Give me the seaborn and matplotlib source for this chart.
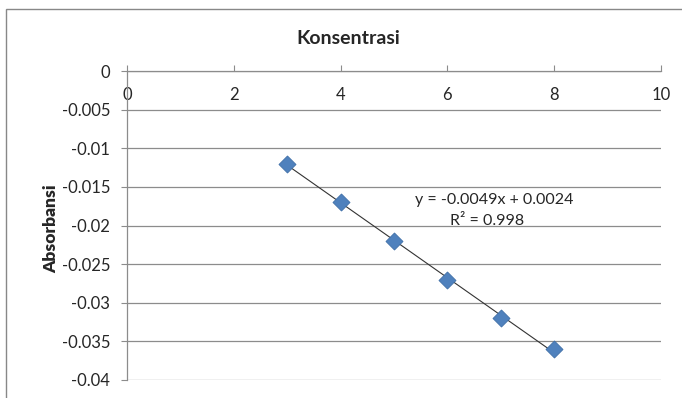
import numpy as np
import pandas as pd
import matplotlib
matplotlib.use('Agg')
import matplotlib.pyplot as plt
import seaborn as sns
from matplotlib.patches import Rectangle

# data
konsentrasi = [3, 4, 5, 6, 7, 8]
absorbansi = [-0.012, -0.017, -0.022, -0.027, -0.032, -0.036]
x_ticks = [0, 2, 4, 6, 8, 10]
y_ticks = [0, -0.005, -0.01, -0.015, -0.02, -0.025, -0.03, -0.035, -0.04]
y_tick_labels = ['0', '-0.005', '-0.01', '-0.015', '-0.02', '-0.025', '-0.03', '-0.035', '-0.04']
trend_label = 'y = -0.0049x + 0.0024'
r2_label = 'R² = 0.998'

df = pd.DataFrame({'konsentrasi': konsentrasi, 'absorbansi': absorbansi})

sns.set_style('white')
plt.rcParams['font.family'] = ['Lato', 'DejaVu Sans']

fig = plt.figure(figsize=(6.82, 3.98), dpi=100)
ax = fig.add_axes([127 / 682, 18 / 398, 534 / 682, 309 / 398])

grid_col = '#8c8c8c'

# linear trendline and points
sns.regplot(data=df, x='konsentrasi', y='absorbansi', ax=ax, ci=None, scatter=False,
            line_kws={'color': '#333333', 'lw': 0.8, 'zorder': 2})
sns.scatterplot(data=df, x='konsentrasi', y='absorbansi', ax=ax, marker='D', s=75,
                color='#4F81BD', edgecolor='#3F6FA8', linewidth=0.6, zorder=3)

ax.text(6.87, -0.0167, trend_label, ha='center', va='center', fontsize=11.5)
ax.text(6.75, -0.0194, r2_label, ha='center', va='center', fontsize=11.5)

ax.set_xlim(0, 10)
ax.set_ylim(-0.04, 0)
ax.set_xticks(x_ticks)
ax.set_yticks(y_ticks)
ax.set_yticklabels(y_tick_labels)
ax.yaxis.grid(True, color=grid_col, lw=0.9)
ax.set_axisbelow(True)

for s in ['right', 'bottom']:
    ax.spines[s].set_visible(False)
for s in ['left', 'top']:
    ax.spines[s].set_color(grid_col)
    ax.spines[s].set_linewidth(0.9)

ax.tick_params(axis='x', bottom=False, labelbottom=False, top=True, labeltop=True,
               direction='out', length=4, color=grid_col, pad=-27, labelsize=12)
ax.tick_params(axis='y', left=True, direction='out', length=4, color=grid_col,
               pad=8, labelsize=12)
ax.set_xlabel('')
ax.set_ylabel('Absorbansi', fontsize=12.5, fontweight='heavy')
ax.yaxis.set_label_coords(-0.127, 0.489)

fig.text(348 / 682, 1 - 38 / 398, 'Konsentrasi', ha='center', va='center',
         fontsize=14, fontweight='bold')

# outer chart border (only top and left edges fall inside the image)
fig.patches.append(Rectangle((6 / 682, -0.05), 1.0, 1.05 - 9 / 398,
                             transform=fig.transFigure, fill=False,
                             edgecolor='#888888', lw=1.0))

fig.savefig('out.png', dpi=100)
